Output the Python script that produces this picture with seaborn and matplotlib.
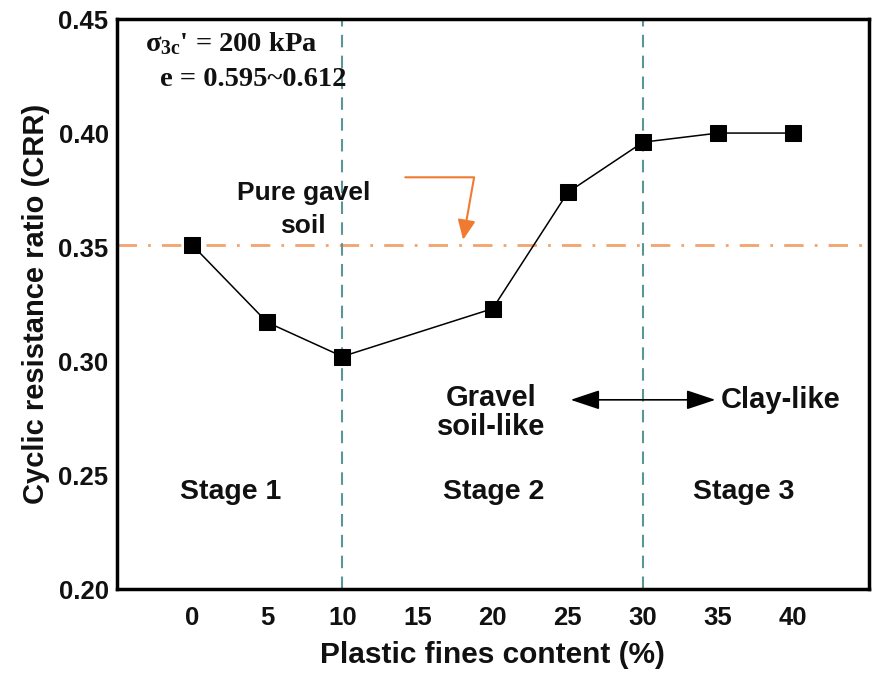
#!/usr/bin/env python3
# CRR vs plastic fines content

import pandas as pd
import matplotlib
matplotlib.use('Agg')
import matplotlib.pyplot as plt
import seaborn as sns

# data
fines = [0, 5, 10, 20, 25, 30, 35, 40]
crr = [0.351, 0.317, 0.302, 0.323, 0.374, 0.396, 0.400, 0.400]
pure_gravel_crr = 0.351
stage_bounds = [10, 30]
stage_labels = ['Stage 1', 'Stage 2', 'Stage 3']
stage_x = [2.6, 20.1, 36.7]
x_ticks = [0, 5, 10, 15, 20, 25, 30, 35, 40]
y_ticks = [0.20, 0.25, 0.30, 0.35, 0.40, 0.45]

sns.set_theme(style='white')
plt.rcParams['font.family'] = ['Liberation Sans', 'DejaVu Sans']
plt.rcParams['font.weight'] = 'bold'
plt.rcParams['text.color'] = '#111111'
plt.rcParams['axes.labelcolor'] = '#111111'
plt.rcParams['xtick.color'] = '#111111'
plt.rcParams['ytick.color'] = '#111111'
plt.rcParams['mathtext.fontset'] = 'custom'
plt.rcParams['mathtext.rm'] = 'Liberation Serif:bold'
plt.rcParams['mathtext.it'] = 'Liberation Serif:bold'
plt.rcParams['mathtext.bf'] = 'Liberation Serif:bold'

df = pd.DataFrame({'fines': fines, 'crr': crr})

fig = plt.figure(figsize=(8.72, 6.81), dpi=100)
ax = fig.add_axes([0.134, 0.135, 0.862, 0.837])

# reference lines
ax.axhline(pure_gravel_crr, color='#f2a46c', lw=2, ls=(0, (7, 4, 1, 4)), zorder=1)
for xb in stage_bounds:
    ax.axvline(xb, color='#5a9696', lw=1.5, ls=(0, (6, 4)), zorder=1)

sns.lineplot(data=df, x='fines', y='crr', ax=ax, color='black', lw=1.1,
             marker='s', markersize=11, markeredgecolor='black', zorder=3)

ax.set_xlim(-5, 45)
ax.set_ylim(0.20, 0.45)
ax.set_xticks(x_ticks)
ax.set_yticks(y_ticks)
ax.set_yticklabels([f'{v:.2f}' for v in y_ticks])
ax.tick_params(direction='in', length=9, width=2, labelsize=18.5, pad=6)
ax.tick_params(axis='x', pad=12)
for s in ax.spines.values():
    s.set_linewidth(2.5)
    s.set_color('black')

ax.set_xlabel('Plastic fines content (%)', fontsize=21.5, fontweight='bold', labelpad=8)
ax.set_ylabel('Cyclic resistance ratio (CRR)', fontsize=21, fontweight='bold', labelpad=6)

# annotations
ax.text(-3.1, 0.439, r"$\sigma_{3c}$' = 200 kPa", fontsize=20.5, fontweight='bold',
        family='Liberation Serif', va='center', ha='left')
ax.text(-2.1, 0.4236, 'e = 0.595~0.612', fontsize=20.5, fontweight='bold',
        family='Liberation Serif', va='center', ha='left')

ax.text(7.4, 0.3665, 'Pure gavel\nsoil', fontsize=19, ha='center', va='center',
        linespacing=1.45)
ax.annotate('', xy=(18.0, 0.352), xytext=(14.0, 0.3806),
            arrowprops=dict(arrowstyle='-|>,head_length=1.0,head_width=0.45',
                            color='#f07a30', lw=1.5,
                            connectionstyle='angle,angleA=0,angleB=80,rad=0'))

for sx, lab in zip(stage_x, stage_labels):
    ax.text(sx, 0.2426, lab, fontsize=20.5, ha='center', va='center')

ax.text(19.9, 0.2773, 'Gravel\nsoil-like', fontsize=21, ha='center', va='center',
        linespacing=1.05)
ax.annotate('', xy=(25.0, 0.283), xytext=(35.0, 0.283),
            arrowprops=dict(arrowstyle='<|-|>,head_length=1.5,head_width=0.5',
                            color='black', lw=1.2))
ax.text(35.2, 0.283, 'Clay-like', fontsize=21, ha='left', va='center')

fig.savefig('out.png', dpi=100)
